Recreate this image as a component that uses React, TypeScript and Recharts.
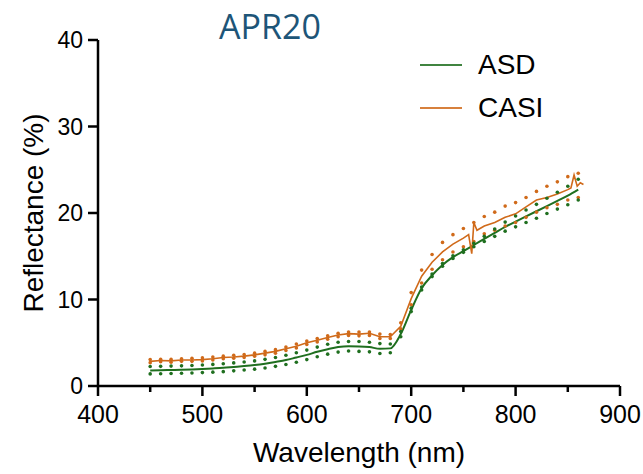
import { Line, LineChart, XAxis, YAxis } from "recharts";

// wavelength grid (nm) shared by the mean ASD curve and both ± bands
const wavelengths = [
  450, 460, 470, 480, 490, 500, 510, 520, 530, 540,
  550, 560, 570, 580, 590, 600, 610, 620, 630, 640,
  650, 660, 670, 680, 690, 700, 710, 720, 730, 740,
  750, 760, 770, 780, 790, 800, 810, 820, 830, 840,
  850, 860,
];

const asdMean = [
  1.8, 1.82, 1.85, 1.88, 1.92, 1.97, 2.03, 2.1, 2.2, 2.3,
  2.42, 2.58, 2.78, 3.0, 3.3, 3.6, 3.95, 4.25, 4.5, 4.6,
  4.58, 4.5, 4.3, 4.35, 6.0, 8.8, 11.3, 12.8, 14.0, 14.9,
  15.6, 16.3, 17.0, 17.7, 18.4, 19.0, 19.6, 20.2, 20.8, 21.4,
  22.0, 22.7,
];

const asdUpper = [
  2.25, 2.27, 2.3, 2.33, 2.37, 2.42, 2.5, 2.57, 2.67, 2.78,
  2.9, 3.08, 3.3, 3.55, 3.85, 4.15, 4.5, 4.82, 5.05, 5.15,
  5.15, 5.05, 4.9, 4.85, 6.3, 9.0, 11.45, 12.95, 14.15, 15.05,
  15.75, 16.5, 17.3, 18.15, 18.95, 19.65, 20.35, 21.0, 21.7, 22.4,
  23.1, 23.9,
];

const asdLower = [
  1.4, 1.42, 1.45, 1.47, 1.5, 1.55, 1.6, 1.66, 1.75, 1.85,
  1.95, 2.08, 2.27, 2.48, 2.75, 3.05, 3.38, 3.68, 3.92, 4.05,
  4.0, 3.95, 3.75, 3.85, 5.7, 8.6, 11.1, 12.65, 13.85, 14.75,
  15.45, 16.1, 16.7, 17.3, 17.9, 18.4, 18.9, 19.4, 19.95, 20.45,
  20.95, 21.5,
];

const casiUpper = [
  3.05, 3.1, 3.1, 3.15, 3.2, 3.25, 3.35, 3.45, 3.55, 3.65,
  3.8, 4.0, 4.2, 4.5, 4.85, 5.2, 5.5, 5.8, 6.1, 6.25,
  6.25, 6.25, 6.0, 5.95, 7.3, 10.8, 13.4, 15.2, 16.6, 17.5,
  18.2, 18.9, 19.6, 20.1, 20.8, 21.2, 21.8, 22.5, 23.1, 23.6,
  24.2, 24.6,
];

const casiLower = [
  2.7, 2.8, 2.75, 2.85, 2.85, 2.9, 3.0, 3.15, 3.2, 3.3,
  3.45, 3.6, 3.8, 4.1, 4.4, 4.8, 5.1, 5.4, 5.7, 5.85,
  5.8, 5.85, 5.5, 5.5, 6.6, 9.4, 11.9, 13.5, 14.6, 15.5,
  16.1, 16.7, 17.6, 18.0, 18.5, 18.9, 19.5, 20.1, 20.6, 21.0,
  21.5, 21.8,
];

// CASI mean is sampled a little finer around the two spikes
const casiWavelengths = [
  450, 460, 470, 480, 490, 500, 510, 520, 530, 540,
  550, 560, 570, 580, 590, 600, 610, 620, 630, 640,
  650, 660, 670, 680, 690, 700, 710, 720, 730, 740,
  750, 755, 758, 760, 763, 770, 780, 790, 800, 810,
  820, 830, 840, 850, 853, 856, 859, 862, 865,
];

const casiMean = [
  2.85, 2.95, 2.9, 3.0, 3.0, 3.05, 3.15, 3.3, 3.35, 3.45,
  3.6, 3.8, 4.0, 4.3, 4.6, 5.0, 5.3, 5.6, 5.9, 6.05,
  6.0, 6.1, 5.7, 5.7, 6.9, 10.1, 12.7, 14.3, 15.5, 16.4,
  17.1, 17.5, 15.3, 18.9, 18.0, 18.5, 18.9, 19.5, 19.9, 20.7,
  21.5, 21.8, 22.2, 22.7, 22.9, 24.4, 23.1, 23.5, 23.3,
];

const xTicks = [400, 450, 500, 550, 600, 650, 700, 750, 800, 850, 900];
const yTicks = [0, 10, 20, 30, 40];

const GREEN = "#1f6f1f";
const ORANGE = "#d06a1a";

const spectra = wavelengths.map((wavelength, i) => ({
  wavelength,
  asdMean: asdMean[i],
  asdUpper: asdUpper[i],
  asdLower: asdLower[i],
  casiUpper: casiUpper[i],
  casiLower: casiLower[i],
}));

const casiData = casiWavelengths.map((wavelength, i) => ({ wavelength, casiMean: casiMean[i] }));

function WavelengthTick({ x, y, payload }: any) {
  const major = payload.value % 100 === 0;
  return (
    <g>
      <line x1={x} x2={x} y1={y} y2={y + (major ? 10 : 6)} stroke="#000" strokeWidth={2.5} />
      {major ? (
        <text x={x} y={y + 37} textAnchor="middle" fontSize={25} fill="#000">
          {payload.value}
        </text>
      ) : null}
    </g>
  );
}

const bandDot = (color: string) => ({ r: 1.8, fill: color, stroke: "none" });

export default function App() {
  return (
    <div
      style={{
        position: "absolute",
        left: 0,
        top: 0,
        width: 643,
        height: 474,
        background: "#fff",
        fontFamily: '"Liberation Sans", Arial, sans-serif',
      }}
    >
      <div
        style={{
          position: "absolute",
          left: 170,
          width: 200,
          top: 9,
          textAlign: "center",
          fontFamily: '"Open Sans", sans-serif',
          fontSize: 34,
          lineHeight: "34px",
          color: "#1d5578",
        }}
      >
        APR20
      </div>

      <div style={{ position: "absolute", left: 420, top: 49 }}>
        {[
          { name: "ASD", color: GREEN },
          { name: "CASI", color: ORANGE },
        ].map((item) => (
          <div key={item.name} style={{ display: "flex", alignItems: "center", height: 32, marginBottom: 11 }}>
            <span style={{ display: "inline-block", width: 42, height: 2, background: item.color, opacity: 0.85 }} />
            <span style={{ marginLeft: 16, fontSize: 28, lineHeight: "32px", color: "#000" }}>{item.name}</span>
          </div>
        ))}
      </div>

      <LineChart width={643} height={474} data={spectra} margin={{ top: 40, right: 23, bottom: 0, left: 0 }}>
        <XAxis
          dataKey="wavelength"
          type="number"
          domain={[400, 900]}
          ticks={xTicks}
          interval={0}
          height={88}
          tickSize={0}
          tickMargin={0}
          tick={<WavelengthTick />}
          axisLine={{ stroke: "#000", strokeWidth: 2.5 }}
          tickLine={false}
          label={{ value: "Wavelength (nm)", position: "insideBottom", offset: 12, style: { fontSize: 28, fill: "#000" } }}
        />
        <YAxis
          type="number"
          domain={[0, 40]}
          ticks={yTicks}
          width={98}
          tickSize={10}
          tickMargin={5}
          tick={{ fontSize: 23, fill: "#000" }}
          axisLine={{ stroke: "#000", strokeWidth: 2.5 }}
          tickLine={{ stroke: "#000", strokeWidth: 2.5 }}
          label={{
            value: "Reflectance (%)",
            angle: -90,
            position: "insideLeft",
            offset: 33,
            style: { textAnchor: "middle", fontSize: 28, fill: "#000" },
          }}
        />
        <Line dataKey="casiUpper" stroke="none" dot={bandDot(ORANGE)} activeDot={false} isAnimationActive={false} />
        <Line dataKey="casiLower" stroke="none" dot={bandDot(ORANGE)} activeDot={false} isAnimationActive={false} />
        <Line dataKey="asdUpper" stroke="none" dot={bandDot(GREEN)} activeDot={false} isAnimationActive={false} />
        <Line dataKey="asdLower" stroke="none" dot={bandDot(GREEN)} activeDot={false} isAnimationActive={false} />
        <Line
          dataKey="asdMean"
          type="monotone"
          stroke={GREEN}
          strokeWidth={2}
          dot={false}
          activeDot={false}
          isAnimationActive={false}
        />
        <Line
          data={casiData}
          dataKey="casiMean"
          type="linear"
          stroke={ORANGE}
          strokeWidth={1.6}
          dot={false}
          activeDot={false}
          isAnimationActive={false}
        />
      </LineChart>
    </div>
  );
}
